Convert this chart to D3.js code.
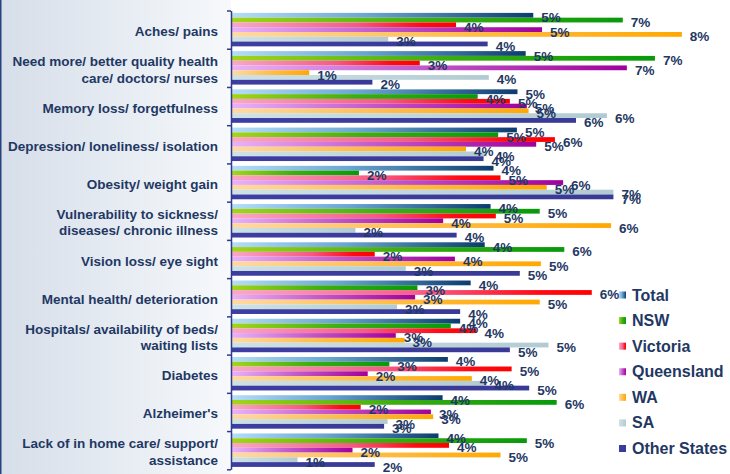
<!DOCTYPE html>
<html>
<head>
<meta charset="utf-8">
<script src="https://cdn.jsdelivr.net/npm/d3@7"></script>
<style>
  html, body { margin: 0; padding: 0; background: #ffffff; }
  svg { display: block; }
</style>
</head>
<body>
<svg id="chart" width="730" height="474"></svg>
<script>
// ---------- DATA ----------
const categories = [
  ["Aches/ pains"],
  ["Need more/ better quality health", "care/ doctors/ nurses"],
  ["Memory loss/ forgetfulness"],
  ["Depression/ loneliness/ isolation"],
  ["Obesity/ weight gain"],
  ["Vulnerability to sickness/", "diseases/ chronic illness"],
  ["Vision loss/ eye sight"],
  ["Mental health/ deterioration"],
  ["Hospitals/ availability of beds/", "waiting lists"],
  ["Diabetes"],
  ["Alzheimer's"],
  ["Lack of in home care/ support/", "assistance"]
];
const seriesNames = ["Total", "NSW", "Victoria", "Queensland", "WA", "SA", "Other States"];

const totalValues      = [5.15, 5.02, 4.88, 4.87, 4.47, 4.42, 4.32, 4.08, 3.90, 3.69, 3.60, 3.53];
const nswValues        = [6.68, 7.23, 4.20, 4.55, 2.17, 5.26, 5.68, 3.17, 3.74, 2.69, 5.55, 5.04];
const victoriaValues   = [3.83, 3.21, 4.75, 5.52, 4.59, 4.51, 2.44, 6.15, 4.18, 4.78, 2.20, 3.71];
const queenslandValues = [5.30, 6.75, 5.04, 5.20, 5.66, 3.61, 3.81, 3.13, 2.80, 2.32, 3.40, 2.06];
const waValues         = [7.69, 1.32, 5.07, 4.00, 5.38, 6.48, 5.28, 5.26, 2.95, 4.10, 3.44, 4.59];
const saValues         = [2.67, 4.39, 6.41, 4.36, 6.52, 2.11, 2.97, 2.82, 5.41, 4.35, 2.66, 1.12];
const otherValues      = [4.37, 2.40, 5.88, 4.30, 6.52, 3.84, 4.92, 3.90, 4.75, 5.08, 2.60, 2.44];

const seriesValues = [totalValues, nswValues, victoriaValues, queenslandValues, waValues, saValues, otherValues];

// ---------- STYLE ----------
const gradStops = [
  [["0%", "#b4def8"], ["45%", "#6aa6d2"], ["100%", "#0c3c6e"]],
  [["0%", "#a6d41a"], ["50%", "#3cae10"], ["100%", "#079a0c"]],
  [["0%", "#f9a8c6"], ["55%", "#f65a84"], ["85%", "#ff0a14"], ["100%", "#ff0000"]],
  [["0%", "#e8b2fa"], ["50%", "#c055c8"], ["100%", "#a0009c"]],
  [["0%", "#ffd9a4"], ["55%", "#ffbb44"], ["100%", "#ffa800"]],
  [["0%", "#cde2e6"], ["100%", "#b2cbd2"]],
  [["0%", "#3e3ea2"], ["100%", "#393996"]]
];
const textColor = "#1f3864";
const W = 730, H = 474;

const svg = d3.select("#chart");
const defs = svg.append("defs");

// background gradient
const bg = defs.append("linearGradient").attr("id", "bgGrad")
  .attr("x1", "0").attr("y1", "0").attr("x2", "1").attr("y2", "0");
bg.append("stop").attr("offset", "0%").attr("stop-color", "#d6dee9");
bg.append("stop").attr("offset", "60%").attr("stop-color", "#e9eef4");
bg.append("stop").attr("offset", "100%").attr("stop-color", "#f7f9fb");

gradStops.forEach((stops, i) => {
  const g = defs.append("linearGradient").attr("id", "g" + i)
    .attr("x1", "0").attr("y1", "0").attr("x2", "1").attr("y2", "0");
  stops.forEach(s => g.append("stop").attr("offset", s[0]).attr("stop-color", s[1]));
});

svg.append("rect").attr("x", 0).attr("y", 0).attr("width", 231).attr("height", H).attr("fill", "url(#bgGrad)");
svg.append("rect").attr("x", 231).attr("y", 0).attr("width", W - 231).attr("height", H).attr("fill", "#ffffff");
svg.append("rect").attr("x", 0).attr("y", 0).attr("width", 1.5).attr("height", H).attr("fill", "#27427e");

// ---------- SCALES ----------
const x = d3.scaleLinear().domain([0, 8.5]).range([232, 729.25]);
const y0 = d3.scaleBand().domain(d3.range(categories.length)).range([10.5, 469.3])
  .paddingInner(0.125).paddingOuter(0.0625);
const y1 = d3.scaleBand().domain(d3.range(seriesNames.length)).range([0, y0.bandwidth()]);

// ---------- BARS ----------
const groups = svg.append("g").selectAll("g").data(categories).join("g")
  .attr("transform", (d, i) => `translate(0,${y0(i)})`);

groups.each(function(d, ci) {
  const g = d3.select(this);
  g.selectAll("rect").data(seriesValues.map((vals, si) => ({si, v: vals[ci]}))).join("rect")
    .attr("x", x(0))
    .attr("y", e => y1(e.si))
    .attr("width", e => x(e.v) - x(0))
    .attr("height", y1.bandwidth())
    .attr("fill", e => `url(#g${e.si})`);
});

// ---------- VALUE LABELS ----------
groups.each(function(d, ci) {
  const g = d3.select(this);
  g.selectAll("text").data(seriesValues.map((vals, si) => ({si, v: vals[ci]}))).join("text")
    .attr("x", e => x(e.v) + 8)
    .attr("y", e => y1(e.si) + y1.bandwidth() / 2 + 2.5)
    .attr("dominant-baseline", "central")
    .attr("font-family", "Liberation Sans, Arial, sans-serif")
    .attr("font-weight", "bold")
    .attr("font-size", "13.5px")
    .attr("fill", textColor)
    .text(e => Math.round(e.v) + "%");
});

// ---------- AXIS ----------
const tickScale = d3.scaleLinear().domain([0, categories.length]).range([10.5, 469.3]);
const axis = svg.append("g").attr("transform", "translate(231,0)")
  .call(d3.axisLeft(tickScale).tickValues(d3.range(categories.length + 1)).tickFormat("").tickSize(4).tickSizeOuter(0));
axis.selectAll("path,line").attr("stroke", "#2f3b8c").attr("stroke-width", 1.5);

// ---------- CATEGORY LABELS ----------
const catG = svg.append("g");
categories.forEach((lines, ci) => {
  const cy = y0(ci) + y0.bandwidth() / 2 + 2;
  const t = catG.append("text")
    .attr("x", 218)
    .attr("text-anchor", "end")
    .attr("font-family", "Liberation Sans, Arial, sans-serif")
    .attr("font-weight", "bold")
    .attr("font-size", "13.5px")
    .attr("fill", textColor);
  lines.forEach((ln, li) => {
    const off = lines.length === 1 ? 0 : (li === 0 ? -8.2 : 8.2);
    t.append("tspan").attr("x", 218).attr("y", cy + off)
      .attr("dominant-baseline", "central").text(ln);
  });
});

// ---------- LEGEND ----------
const legendY = d3.scalePoint().domain(d3.range(seriesNames.length)).range([295, 448.5]);
const leg = svg.append("g");
seriesNames.forEach((name, si) => {
  leg.append("rect").attr("x", 619).attr("y", legendY(si) - 3.5)
    .attr("width", 7).attr("height", 7).attr("fill", `url(#g${si})`);
  leg.append("text").attr("x", 632).attr("y", legendY(si))
    .attr("dominant-baseline", "central")
    .attr("font-family", "Liberation Sans, Arial, sans-serif")
    .attr("font-weight", "bold")
    .attr("font-size", "16px")
    .attr("fill", textColor)
    .text(name);
});
</script>
</body>
</html>
